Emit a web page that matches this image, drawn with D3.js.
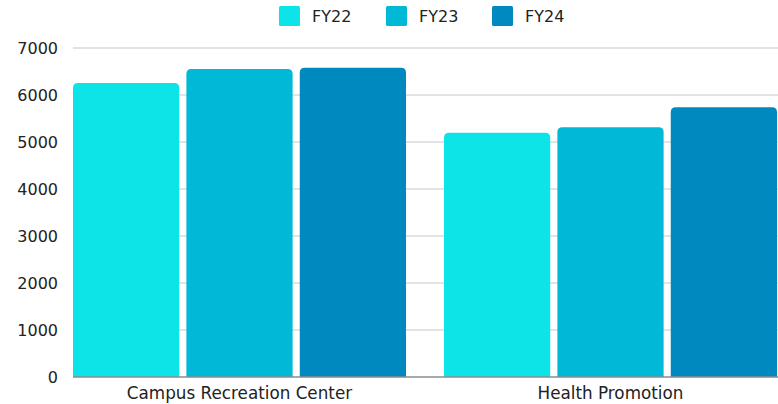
<!DOCTYPE html>
<html>
<head>
<meta charset="utf-8">
<script src="https://cdn.jsdelivr.net/npm/d3@7"></script>
<style>
  html, body { margin: 0; padding: 0; background: #fff; }
  svg { display: block; font-family: "DejaVu Sans", sans-serif; }
</style>
</head>
<body>
<div id="chart"></div>
<script>
const categories = ["Campus Recreation Center", "Health Promotion"];
const seriesNames = ["FY22", "FY23", "FY24"];
const fy22 = [6255, 5198];
const fy23 = [6553, 5312];
const fy24 = [6580, 5738];
const yTicks = [0, 1000, 2000, 3000, 4000, 5000, 6000, 7000];
const colors = ["#0de4e8", "#00b9d6", "#0089bf"];

const width = 778, height = 404;
const margin = { top: 48, right: 0, bottom: 27, left: 73 };

const svg = d3.select("#chart").append("svg")
  .attr("width", width)
  .attr("height", height);

const rows = categories.map((c, i) => ({ name: c, values: [fy22[i], fy23[i], fy24[i]] }));

// last bar runs up to the right edge, like the original
const x0 = d3.scaleBand()
  .domain(categories)
  .range([margin.left, margin.left + 704])
  .paddingInner(38 / 371)
  .paddingOuter(0);

const x1 = d3.scaleBand()
  .domain(seriesNames)
  .range([0, x0.bandwidth()])
  .paddingInner(0.063);

const y = d3.scaleLinear()
  .domain([0, 7000])
  .range([377, margin.top]);

// gridlines
svg.append("g")
  .selectAll("line")
  .data(yTicks.filter(d => d > 0))
  .join("line")
  .attr("x1", margin.left)
  .attr("x2", width)
  .attr("y1", d => y(d))
  .attr("y2", d => y(d))
  .attr("stroke", "#c8c8c8")
  .attr("stroke-width", 1.2);

// y labels
svg.append("g")
  .selectAll("text")
  .data(yTicks)
  .join("text")
  .attr("x", 58)
  .attr("y", d => y(d))
  .attr("dy", "0.36em")
  .attr("text-anchor", "end")
  .attr("font-size", 16)
  .attr("fill", "#222")
  .text(d => d);

// rounded-top bar path
function topRounded(x, yTop, w, h, r) {
  r = Math.min(r, h, w / 2);
  return `M${x},${yTop + h}V${yTop + r}Q${x},${yTop} ${x + r},${yTop}` +
    `H${x + w - r}Q${x + w},${yTop} ${x + w},${yTop + r}V${yTop + h}Z`;
}

const group = svg.append("g")
  .selectAll("g")
  .data(rows)
  .join("g")
  .attr("transform", d => `translate(${x0(d.name)},0)`);

group.selectAll("path")
  .data(d => d.values.map((v, i) => ({ key: seriesNames[i], value: v, i })))
  .join("path")
  .attr("fill", d => colors[d.i])
  .attr("d", d => topRounded(x1(d.key), y(d.value), x1.bandwidth(), y(0) - y(d.value), 5));

// baseline
svg.append("line")
  .attr("x1", margin.left)
  .attr("x2", width)
  .attr("y1", y(0))
  .attr("y2", y(0))
  .attr("stroke", "#8c8c8c")
  .attr("stroke-width", 1.5);

// category labels
svg.append("g")
  .selectAll("text")
  .data(categories)
  .join("text")
  .attr("x", d => x0(d) + x0.bandwidth() / 2)
  .attr("y", 399)
  .attr("text-anchor", "middle")
  .attr("font-size", 16.8)
  .attr("fill", "#222")
  .text(d => d);

// legend
const legendX = [279, 386, 492];
const legend = svg.append("g")
  .selectAll("g")
  .data(seriesNames)
  .join("g")
  .attr("transform", (d, i) => `translate(${legendX[i]},6)`);

legend.append("rect")
  .attr("width", 21)
  .attr("height", 20)
  .attr("rx", 1.5)
  .attr("fill", (d, i) => colors[i]);

legend.append("text")
  .attr("x", 33)
  .attr("y", 10)
  .attr("dy", "0.36em")
  .attr("font-size", 16)
  .attr("fill", "#222")
  .text(d => d);
</script>
</body>
</html>
